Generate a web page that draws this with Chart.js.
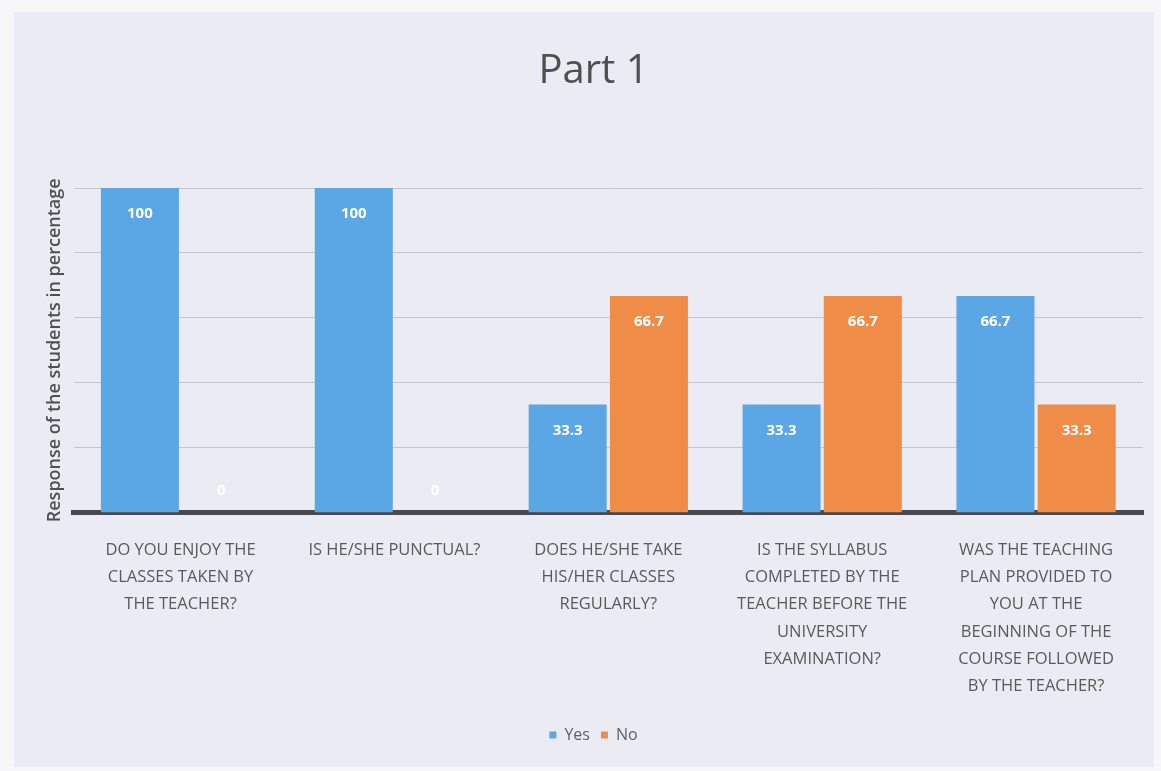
<!DOCTYPE html>
<html>
<head>
<meta charset="utf-8">
<script src="https://cdn.jsdelivr.net/npm/chart.js@4/dist/chart.umd.min.js"></script>
<style>
  html, body { margin: 0; padding: 0; background: #f7f7f9; }
  #wrap { position: absolute; left: 14px; top: 12px; width: 1140px; height: 755px; background: #ebecf3; }
</style>
</head>
<body>
<div id="wrap"><canvas id="chart"></canvas></div>
<script>
const categories = [
  ["DO YOU ENJOY THE", "CLASSES TAKEN BY", "THE TEACHER?"],
  ["IS HE/SHE PUNCTUAL?"],
  ["DOES HE/SHE TAKE", "HIS/HER CLASSES", "REGULARLY?"],
  ["IS THE SYLLABUS", "COMPLETED BY THE", "TEACHER BEFORE THE", "UNIVERSITY", "EXAMINATION?"],
  ["WAS THE TEACHING", "PLAN PROVIDED TO", "YOU AT THE", "BEGINNING OF THE", "COURSE FOLLOWED", "BY THE TEACHER?"]
];
const yesValues = [100, 100, 33.3, 33.3, 66.7];
const noValues = [0, 0, 66.7, 66.7, 33.3];
const seriesNames = ["Yes", "No"];

// white value labels near the top of each bar
const valueLabels = {
  id: "valueLabels",
  afterDatasetsDraw(chart) {
    const ctx = chart.ctx;
    ctx.save();
    ctx.fillStyle = "#ffffff";
    ctx.font = "bold 15px 'Open Sans'";
    ctx.textAlign = "center";
    ctx.textBaseline = "middle";
    chart.data.datasets.forEach((ds, i) => {
      const meta = chart.getDatasetMeta(i);
      meta.data.forEach((bar, j) => {
        const v = ds.data[j];
        const y = v === 0 ? bar.y - 22 : bar.y + 26;
        ctx.fillText(String(v), bar.x, y);
      });
    });
    ctx.restore();
  }
};

new Chart(document.getElementById("chart"), {
  type: "bar",
  data: {
    labels: categories,
    datasets: [
      { label: seriesNames[0], data: yesValues, backgroundColor: "#5ba6e4", barPercentage: 0.96, categoryPercentage: 0.76 },
      { label: seriesNames[1], data: noValues, backgroundColor: "#ef8c48", barPercentage: 0.96, categoryPercentage: 0.76 }
    ]
  },
  options: {
    responsive: true,
    maintainAspectRatio: false,
    animation: false,
    layout: { padding: { left: 30, right: 11, top: 36, bottom: 14 } },
    plugins: {
      title: {
        display: true,
        text: "Part 1",
        color: "#505050",
        font: { family: "'Open Sans'", size: 40, weight: "normal" },
        padding: { top: 0, bottom: 92 }
      },
      legend: {
        position: "bottom",
        labels: {
          color: "#606060",
          font: { family: "'Open Sans'", size: 16 },
          usePointStyle: true,
          pointStyle: "rect",
          boxWidth: 7,
          boxHeight: 7,
          padding: 11
        }
      },
      tooltip: { enabled: false }
    },
    scales: {
      x: {
        grid: { display: false },
        border: { display: true, color: "#4a4a4e", width: 5 },
        ticks: {
          color: "#5a5a5a",
          font: { family: "'Open Sans'", size: 16.5, lineHeight: 1.65 },
          maxRotation: 0,
          autoSkip: false,
          padding: 16
        }
      },
      y: {
        min: 0,
        max: 100,
        ticks: { display: false, stepSize: 20 },
        grid: { color: "#c4c5ce", lineWidth: 1, drawTicks: false },
        border: { display: false },
        title: {
          display: true,
          text: "Response of the students in percentage",
          color: "#505050",
          font: { family: "'Open Sans'", size: 18, weight: "600" },
          padding: { top: 0, bottom: 8 }
        }
      }
    }
  },
  plugins: [valueLabels]
});
</script>
</body>
</html>
